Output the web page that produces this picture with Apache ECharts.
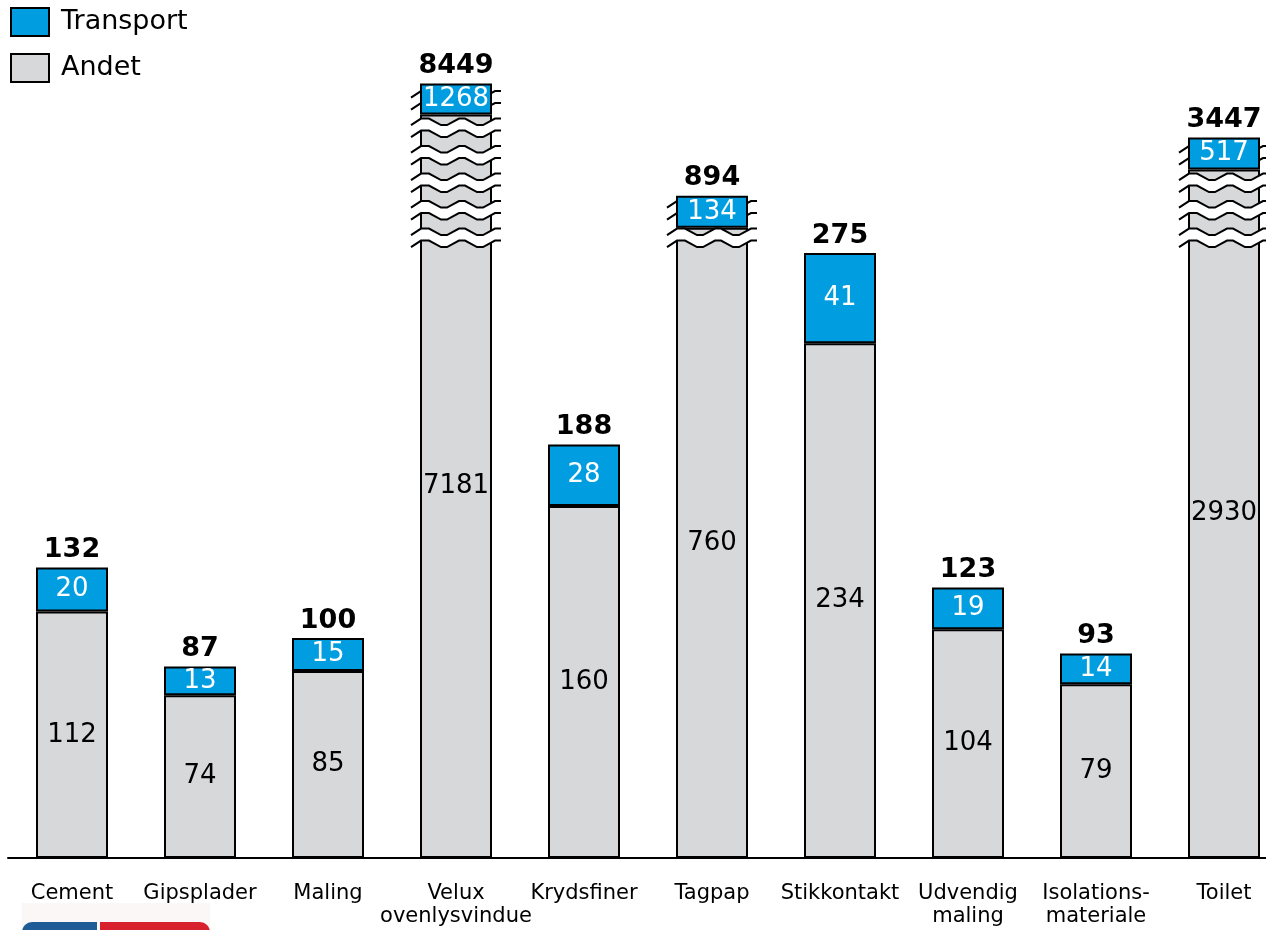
<!DOCTYPE html>
<html>
<head>
<meta charset="utf-8">
<script src="https://cdn.jsdelivr.net/npm/echarts@6/dist/echarts.min.js"></script>
<style>
html,body{margin:0;padding:0;background:#fff;}
#chart{width:1266px;height:930px;}
</style>
</head>
<body>
<div id="chart"></div>
<script>
// ---- data ----
const categories = ['Cement','Gipsplader','Maling','Velux\novenlysvindue','Krydsfiner','Tagpap','Stikkontakt','Udvendig\nmaling','Isolations-\nmateriale','Toilet'];
const andet     = [112, 74, 85, 7181, 160, 760, 234, 104, 79, 2930];
const transport = [20, 13, 15, 1268, 28, 134, 41, 19, 14, 517];
const total     = [132, 87, 100, 8449, 188, 894, 275, 123, 93, 3447];
// visible (compressed) heights of the broken bars, in axis units
const brokenAndet     = [null, null, null, 338, null, 286.5, null, null, null, 313];
const brokenTransport = [null, null, null, 14, null, 14.5, null, null, null, 14.5];
const BREAK_FLOOR = 279.5; // axis value where the drawn break begins

const shownAndet = andet.map((v, i) => brokenAndet[i] != null ? brokenAndet[i] : v);
const shownTransport = transport.map((v, i) => brokenTransport[i] != null ? brokenTransport[i] : v);
const shownTotal = shownAndet.map((v, i) => v + shownTransport[i]);

// ---- styles ----
const BLUE = '#009ee0';
const GREY = '#d7d8da';
const FONT = '"DejaVu Sans", Verdana, sans-serif';
const BAR_W = 72;
const GAP_H = 12, GAP_PERIOD = 27.5;
const ZZ = [[-9,4],[1,-2.5],[9,-2.5],[21,4],[27,4],[39,-2.5],[45,-2.5],[57,4],[63,4],[75,-2.5],[81,-2.5]];

function zig(xL, y) { return ZZ.map(p => [xL + p[0], y + p[1]]); }

const chart = echarts.init(document.getElementById('chart'), null, {renderer: 'canvas'});

const option = {
  animation: false,
  backgroundColor: '#fff',
  textStyle: {fontFamily: FONT},
  legend: {
    data: ['Transport', 'Andet'],
    orient: 'vertical',
    left: 10, top: 7, padding: 0,
    icon: 'rect',
    itemWidth: 38, itemHeight: 28, itemGap: 16,
    textStyle: {fontSize: 27, color: '#000', fontFamily: FONT, padding: [0, 0, 0, 7]}
  },
  grid: {left: 8, right: -22, top: 0, bottom: 72, outerBoundsMode: 'none', containLabel: false},
  xAxis: {
    type: 'category',
    data: categories,
    axisLine: {lineStyle: {color: '#000', width: 2}},
    axisTick: {show: false},
    axisLabel: {interval: 0, fontSize: 21, lineHeight: 23, color: '#000', margin: 24, fontFamily: FONT}
  },
  yAxis: {type: 'value', min: 0, max: 390, show: false},
  series: [
    {
      name: 'Andet', type: 'bar', stack: 's', z: 2, barWidth: BAR_W,
      data: shownAndet,
      itemStyle: {color: GREY, borderColor: '#000', borderWidth: 2},
      label: {show: true, position: 'inside', fontSize: 26, color: '#000', fontFamily: FONT,
        formatter: p => String(andet[p.dataIndex])}
    },
    {
      name: 'Transport', type: 'bar', stack: 's', z: 4, barWidth: BAR_W,
      data: shownTransport,
      itemStyle: {color: BLUE, borderColor: '#000', borderWidth: 2},
      label: {show: true, position: 'inside', fontSize: 26, color: '#fff', fontFamily: FONT,
        formatter: p => String(transport[p.dataIndex])}
    },
    {
      name: 'breaks', type: 'custom', z: 3, silent: true,
      data: categories.map((c, i) => [i, shownTotal[i]]),
      encode: {x: 0, y: 1},
      renderItem: function (params, api) {
        const i = api.value(0);
        const top = api.coord([i, api.value(1)]);
        const cx = top[0], yTop = top[1];
        const xL = cx - BAR_W / 2;
        const children = [];
        if (brokenAndet[i] != null) {
          const floorY = api.coord([i, BREAK_FLOOR])[1];
          for (let k = 0; k < 50; k++) {
            const gb = floorY - k * GAP_PERIOD;
            const gt = gb - GAP_H;
            if (gt < yTop + 5) break;
            const a = zig(xL, gt), b = zig(xL, gb);
            children.push({type: 'polygon', shape: {points: a.concat(b.slice().reverse())},
              style: {fill: '#fff', stroke: null}});
            children.push({type: 'polyline', shape: {points: a}, style: {stroke: '#000', lineWidth: 2, fill: null}});
            children.push({type: 'polyline', shape: {points: b}, style: {stroke: '#000', lineWidth: 2, fill: null}});
          }
        }
        children.push({type: 'text', z2: 10, style: {text: String(total[i]), x: cx, y: yTop - 4,
          align: 'center', verticalAlign: 'bottom', fontSize: 27, fontWeight: 'bold', fontFamily: FONT, fill: '#000'}});
        return {type: 'group', children: children};
      }
    }
  ],
  graphic: [
    {type: 'rect', left: 22, top: 903, shape: {width: 188, height: 27}, style: {fill: '#fcf7f7'}, silent: true},
    {type: 'rect', left: 22, top: 922, shape: {width: 75, height: 20, r: [10, 0, 0, 0]}, style: {fill: '#1d5c96'}, silent: true},
    {type: 'rect', left: 100, top: 922, shape: {width: 110, height: 20, r: [0, 10, 0, 0]}, style: {fill: '#d7222e'}, silent: true}
  ]
};
chart.setOption(option);
</script>
</body>
</html>
